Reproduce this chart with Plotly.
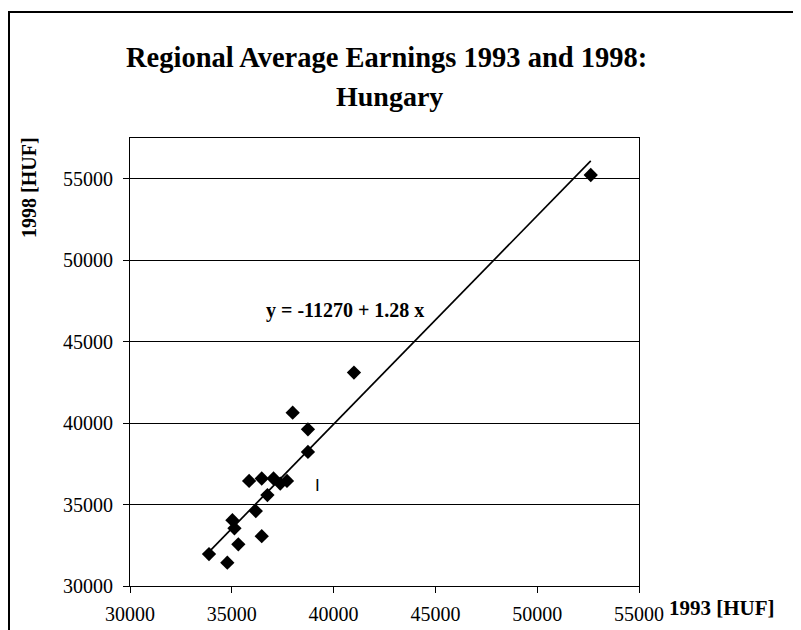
import plotly.graph_objects as go

# Regional average earnings (HUF), one point per region
earn_1993 = [33880, 34780, 35320, 36470, 35030, 35130, 36180, 36750, 35850,
             36470, 37050, 37380, 37710, 38740, 37990, 38740, 41000, 52630]
earn_1998 = [31960, 31430, 32560, 33060, 34040, 33540, 34600, 35580, 36450,
             36600, 36600, 36290, 36450, 38230, 40640, 39620, 43100, 55230]

# fitted trend y = a + b x
fit_a = -11270
fit_b = 1.28

x_ticks = [30000, 35000, 40000, 45000, 50000, 55000]
y_ticks = [30000, 35000, 40000, 45000, 50000, 55000]

FONT = "Liberation Serif, Times New Roman, serif"

# plot area in page pixels (the page has an 8px body margin)
L, T, W, H = 122, 130, 509, 448


def px(xp):
    return (xp - L) / W


def py(yp):
    return (T + H - yp) / H


fit_x = [min(earn_1993), max(earn_1993)]
fit_y = [fit_a + fit_b * v for v in fit_x]

fig = go.Figure()
fig.add_trace(go.Scatter(
    x=fit_x, y=fit_y, mode="lines",
    line=dict(color="black", width=1.7),
    showlegend=False, hoverinfo="skip",
))
fig.add_trace(go.Scatter(
    x=earn_1993, y=earn_1998, mode="markers",
    marker=dict(symbol="diamond", size=11, color="black"),
    showlegend=False,
))

axis_common = dict(
    showline=True, linecolor="black", linewidth=1, mirror=True,
    ticks="outside", ticklen=6, tickcolor="black",
    tickfont=dict(family=FONT, size=20, color="black"),
    tickformat="d", zeroline=False,
)

fig.update_xaxes(
    **axis_common,
    range=[30000, 55000], tickvals=x_ticks, showgrid=False,
    ticklabelstandoff=4,
)
fig.update_yaxes(
    **axis_common,
    range=[30000, 57500], tickvals=y_ticks,
    showgrid=True, gridcolor="black", gridwidth=1,
    ticklabelstandoff=6,
)

ann = []
ann.append(dict(text="<b>Regional Average Earnings 1993 and 1998:</b>",
                xref="paper", yref="paper", x=px(378), y=py(50),
                xanchor="center", yanchor="middle", showarrow=False,
                font=dict(family=FONT, size=28.5, color="black")))
ann.append(dict(text="<b>Hungary</b>",
                xref="paper", yref="paper", x=px(381), y=py(88),
                xanchor="center", yanchor="middle", showarrow=False,
                font=dict(family=FONT, size=28, color="black")))
ann.append(dict(text="<b>y = -11270 + 1.28 x</b>",
                xref="x", yref="y", x=40560, y=46900,
                xanchor="center", yanchor="middle", showarrow=False,
                font=dict(family=FONT, size=20, color="black")))
ann.append(dict(text="I",
                xref="x", yref="y", x=39185, y=36150,
                xanchor="center", yanchor="middle", showarrow=False,
                font=dict(family="Liberation Sans, Arial, sans-serif", size=17, color="black")))
ann.append(dict(text="<b>1998 [HUF]</b>", textangle=-90,
                xref="paper", yref="paper", x=px(21), y=py(180),
                xanchor="center", yanchor="middle", showarrow=False,
                font=dict(family=FONT, size=20, color="black")))
ann.append(dict(text="<b>1993 [HUF]</b>",
                xref="paper", yref="paper", x=px(714), y=py(600),
                xanchor="center", yanchor="middle", showarrow=False,
                font=dict(family=FONT, size=21, color="black")))

fig.update_layout(
    width=801, height=630,
    margin=dict(l=L, r=801 - L - W, t=T, b=630 - T - H),
    paper_bgcolor="white", plot_bgcolor="white",
    font=dict(family=FONT, color="black"),
    annotations=ann,
    shapes=[dict(type="rect", xref="paper", yref="paper",
                 x0=px(1), x1=px(790), y0=py(640), y1=py(4),
                 line=dict(color="black", width=2), layer="below")],
)

fig.write_html("out.html")
